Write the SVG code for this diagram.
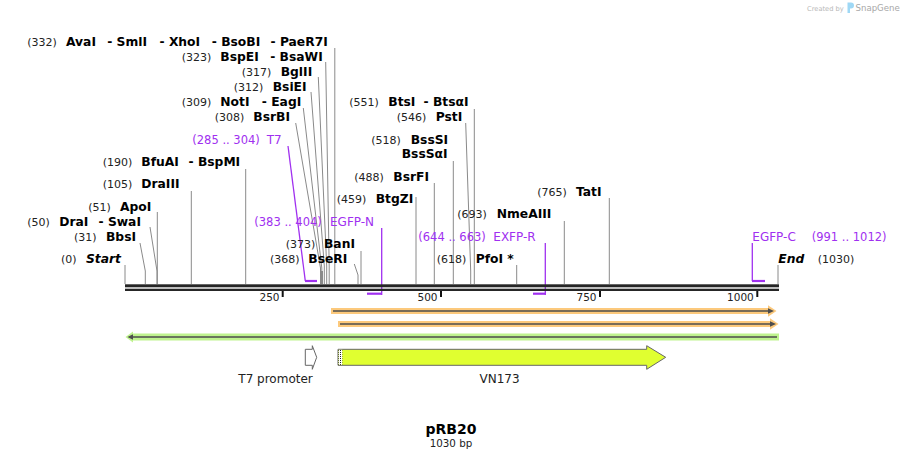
<svg xmlns="http://www.w3.org/2000/svg" width="904" height="460" viewBox="0 0 904 460">
<defs>
<style>
text{font-family:"DejaVu Sans","Noto Sans",sans-serif}
.n{font-size:11px;fill:#222}
.e{font-size:12.3px;font-weight:bold;fill:#000}
.i{font-style:italic}
.p{font-size:11.5px;fill:#a030f0}
.pn{font-size:12px;fill:#a030f0}
.ld{stroke:#8a8a8a;stroke-width:1;fill:none}
.pl{stroke:#a030f0;stroke-width:1.3;fill:none}
.pm{stroke:#a030f0;stroke-width:2.2;fill:none}
.tk{stroke:#111;stroke-width:2}
.tl{font-size:10.5px;fill:#222;text-anchor:end}
.fl{font-size:12px;fill:#222}
</style>
<pattern id="dots" width="2" height="2" patternUnits="userSpaceOnUse">
<rect width="2" height="2" fill="#fff"/>
<rect width="1" height="1" fill="#222"/>
</pattern>
</defs>
<rect width="904" height="460" fill="#fff"/>

<g id="watermark">
<text x="807" y="11" style="font-size:6.7px;fill:#b8b8b8">Created by</text>
<path d="M847.5 2.5 h3.5 a3 3 0 0 1 0 6 h-1 v4.5 h-2.5 z" fill="#9fd8f5"/>
<text x="855.5" y="11" style="font-size:8.6px;fill:#a8a8a8">SnapGene</text>
</g>

<g id="connectors">
<line class="ld" x1="125" y1="265" x2="125" y2="284"/>
<polyline class="ld" points="140,243 145.3,271 145.3,284"/>
<polyline class="ld" points="150,227 157,271 157,284"/>
<line class="ld" x1="157.3" y1="212" x2="157.3" y2="284"/>
<line class="ld" x1="191.3" y1="191" x2="191.3" y2="284"/>
<line class="ld" x1="245.7" y1="169" x2="245.7" y2="284"/>
<polyline class="ld" points="295.7,123 320.5,268 320.5,284"/>
<polyline class="ld" points="303.3,108 321.8,268 321.8,284"/>
<rect x="320" y="271" width="3" height="13" fill="#8a8a8a"/>
<polyline class="ld" points="311,92 324.3,266 324.3,284"/>
<polyline class="ld" points="318.3,77 326.7,266 326.7,284"/>
<polyline class="ld" points="325.7,62 329.2,266 329.2,284"/>
<line class="ld" x1="334.8" y1="48" x2="334.8" y2="284"/>
<polyline class="ld" points="354.3,264 358,275 358,284"/>
<line class="ld" x1="361" y1="251" x2="361" y2="284"/>
<line class="ld" x1="416" y1="197" x2="416" y2="284"/>
<line class="ld" x1="434.3" y1="183" x2="434.3" y2="284"/>
<line class="ld" x1="453.3" y1="161" x2="453.3" y2="284"/>
<polyline class="ld" points="465.7,123 470.7,271 470.7,284"/>
<line class="ld" x1="474.3" y1="109" x2="474.3" y2="284"/>
<line class="ld" x1="516.7" y1="265" x2="516.7" y2="284"/>
<line class="ld" x1="564.3" y1="221" x2="564.3" y2="284"/>
<line class="ld" x1="609.3" y1="198" x2="609.3" y2="284"/>
<line class="ld" x1="778" y1="265" x2="778" y2="284"/>
<line class="pl" x1="288" y1="146" x2="305.3" y2="281"/>
<line class="pl" x1="381.7" y1="228" x2="381.7" y2="295"/>
<line class="pl" x1="545.3" y1="243" x2="545.3" y2="295"/>
<line class="pl" x1="752.3" y1="243" x2="752.3" y2="281"/>
</g>

<g id="sequence">
<rect x="125" y="284.3" width="654" height="3" fill="#262626"/>
<rect x="125" y="288.7" width="654" height="2.3" fill="#262626"/>
<line class="tk" x1="282.7" y1="291" x2="282.7" y2="297"/>
<line class="tk" x1="441" y1="291" x2="441" y2="297"/>
<line class="tk" x1="600" y1="291" x2="600" y2="297"/>
<line class="tk" x1="757.3" y1="291" x2="757.3" y2="297"/>
<text class="tl" x="279.5" y="301">250</text>
<text class="tl" x="437.5" y="301">500</text>
<text class="tl" x="596.5" y="301">750</text>
<text class="tl" x="753.8" y="301">1000</text>
</g>

<g id="primer-T7"><line class="pm" x1="305" y1="281" x2="317" y2="281"/></g>
<g id="primer-EGFP-N"><line class="pm" x1="367" y1="293.7" x2="381.7" y2="293.7"/></g>
<g id="primer-EXFP-R"><line class="pm" x1="533" y1="293.7" x2="545.3" y2="293.7"/></g>
<g id="primer-EGFP-C"><line class="pm" x1="752" y1="281" x2="765" y2="281"/></g>

<g id="feature-orange-1">
<path d="M331 308 H768 V305.3 L776.5 311 L768 316.7 V314 H331 Z" fill="#fcc97c"/>
<line x1="333" y1="311" x2="769" y2="311" stroke="#4d4d4d" stroke-width="1.5"/>
<path d="M768 308.3 L774 311 L768 313.7 Z" fill="#4d4d4d"/>
</g>
<g id="feature-orange-2">
<path d="M338 321 H770 V318.3 L778.5 324 L770 329.7 V327 H338 Z" fill="#fcc97c"/>
<line x1="340" y1="324" x2="771" y2="324" stroke="#4d4d4d" stroke-width="1.5"/>
<path d="M770 321.3 L776 324 L770 326.7 Z" fill="#4d4d4d"/>
</g>
<g id="feature-green">
<path d="M779 333.5 H133 V331.5 L125.5 337 L133 342.5 V340.5 H779 Z" fill="#bff38f"/>
<line x1="131" y1="337" x2="777" y2="337" stroke="#4d4d4d" stroke-width="1.5"/>
<path d="M133 334.3 L127.5 337 L133 339.7 Z" fill="#4d4d4d"/>
</g>

<g id="T7-promoter">
<path d="M305.3 349.3 H312.3 V345.7 L316.7 357.3 L312.3 369.3 V365.3 H305.3 Z" fill="#fff" stroke="#666" stroke-width="1"/>
<text class="fl" x="238.3" y="383">T7 promoter</text>
</g>
<g id="VN173">
<path d="M338 349.3 H646.7 V345.7 L665.7 357.3 L646.7 369.3 V365.3 H338 Z" fill="#e0ff30" stroke="#666" stroke-width="1"/>
<rect x="338.5" y="349.8" width="3.8" height="15" fill="url(#dots)"/>
<text class="fl" x="499.5" y="383" text-anchor="middle">VN173</text>
</g>

<g id="title">
<text x="451" y="434" text-anchor="middle" style="font-size:14px;font-weight:bold;fill:#000">pRB20</text>
<text x="451" y="447" text-anchor="middle" style="font-size:10.3px;fill:#222">1030 bp</text>
</g>

<g id="site-332"><text class="n" x="27.3" y="46">(332)</text><text class="e" x="66" y="46">AvaI</text><text class="e" x="107.2" y="46">- SmlI</text><text class="e" x="159.5" y="46">- XhoI</text><text class="e" x="211.8" y="46">- BsoBI</text><text class="e" x="270.5" y="46">- PaeR7I</text></g>
<g id="site-323"><text class="n" x="181.7" y="61">(323)</text><text class="e" x="220.3" y="61">BspEI</text><text class="e" x="270.2" y="61">- BsaWI</text></g>
<g id="site-317"><text class="n" x="241.7" y="75.7">(317)</text><text class="e" x="280.7" y="75.7">BglII</text></g>
<g id="site-312"><text class="n" x="233.7" y="90.7">(312)</text><text class="e" x="272.7" y="90.7">BsiEI</text></g>
<g id="site-309"><text class="n" x="181.7" y="106">(309)</text><text class="e" x="220.3" y="106">NotI</text><text class="e" x="261.8" y="106">- EagI</text></g>
<g id="site-308"><text class="n" x="214.7" y="120.7">(308)</text><text class="e" x="253.3" y="120.7">BsrBI</text></g>
<g id="primer-label-T7"><text class="p" x="192.3" y="144">(285 .. 304)</text><text class="pn" x="266.7" y="144">T7</text></g>
<g id="site-190"><text class="n" x="102.7" y="165.7">(190)</text><text class="e" x="141.3" y="165.7">BfuAI</text><text class="e" x="188.5" y="165.7">- BspMI</text></g>
<g id="site-105"><text class="n" x="102.7" y="188.3">(105)</text><text class="e" x="141.3" y="188.3">DraIII</text></g>
<g id="site-51"><text class="n" x="88.3" y="211">(51)</text><text class="e" x="120" y="211">ApoI</text></g>
<g id="site-50"><text class="n" x="27.3" y="226">(50)</text><text class="e" x="59.3" y="226">DraI</text><text class="e" x="98.5" y="226">- SwaI</text></g>
<g id="site-31"><text class="n" x="74" y="240.7">(31)</text><text class="e" x="106" y="240.7">BbsI</text></g>
<g id="site-start"><text class="n" x="61" y="263.3">(0)</text><text class="e i" x="86" y="263.3">Start</text></g>
<g id="primer-label-EGFP-N"><text class="p" x="254.3" y="226">(383 .. 404)</text><text class="pn" x="330" y="226">EGFP-N</text></g>
<g id="site-373"><text class="n" x="285.7" y="248.3">(373)</text><text class="e" x="324" y="248.3">BanI</text></g>
<g id="site-368"><text class="n" x="270" y="263.3">(368)</text><text class="e" x="308.3" y="263.3">BseRI</text></g>
<g id="site-551"><text class="n" x="349.3" y="105.7">(551)</text><text class="e" x="388.3" y="105.7">BtsI</text><text class="e" x="423.5" y="105.7">- BtsαI</text></g>
<g id="site-546"><text class="n" x="396.7" y="120.7">(546)</text><text class="e" x="435.7" y="120.7">PstI</text></g>
<g id="site-518"><text class="n" x="371.3" y="144">(518)</text><text class="e" x="410.7" y="144">BssSI</text><text class="e" x="401.7" y="158.3">BssSαI</text></g>
<g id="site-488"><text class="n" x="354.3" y="180.7">(488)</text><text class="e" x="393.3" y="180.7">BsrFI</text></g>
<g id="site-459"><text class="n" x="336.7" y="203.3">(459)</text><text class="e" x="375.7" y="203.3">BtgZI</text></g>
<g id="primer-label-EXFP-R"><text class="p" x="418.3" y="240.7">(644 .. 663)</text><text class="pn" x="493.3" y="240.7">EXFP-R</text></g>
<g id="site-618"><text class="n" x="436.7" y="263.3">(618)</text><text class="e" x="475.7" y="263.3">PfoI *</text></g>
<g id="site-693"><text class="n" x="457.3" y="218.3">(693)</text><text class="e" x="496.7" y="218.3">NmeAIII</text></g>
<g id="site-765"><text class="n" x="537.3" y="195.7">(765)</text><text class="e" x="576" y="195.7">TatI</text></g>
<g id="primer-label-EGFP-C"><text class="pn" x="752.3" y="240.7">EGFP-C</text><text class="p" x="811.7" y="240.7">(991 .. 1012)</text></g>
<g id="site-end"><text class="e i" x="778.3" y="263.3">End</text><text class="n" x="817.7" y="263.3">(1030)</text></g>
</svg>
